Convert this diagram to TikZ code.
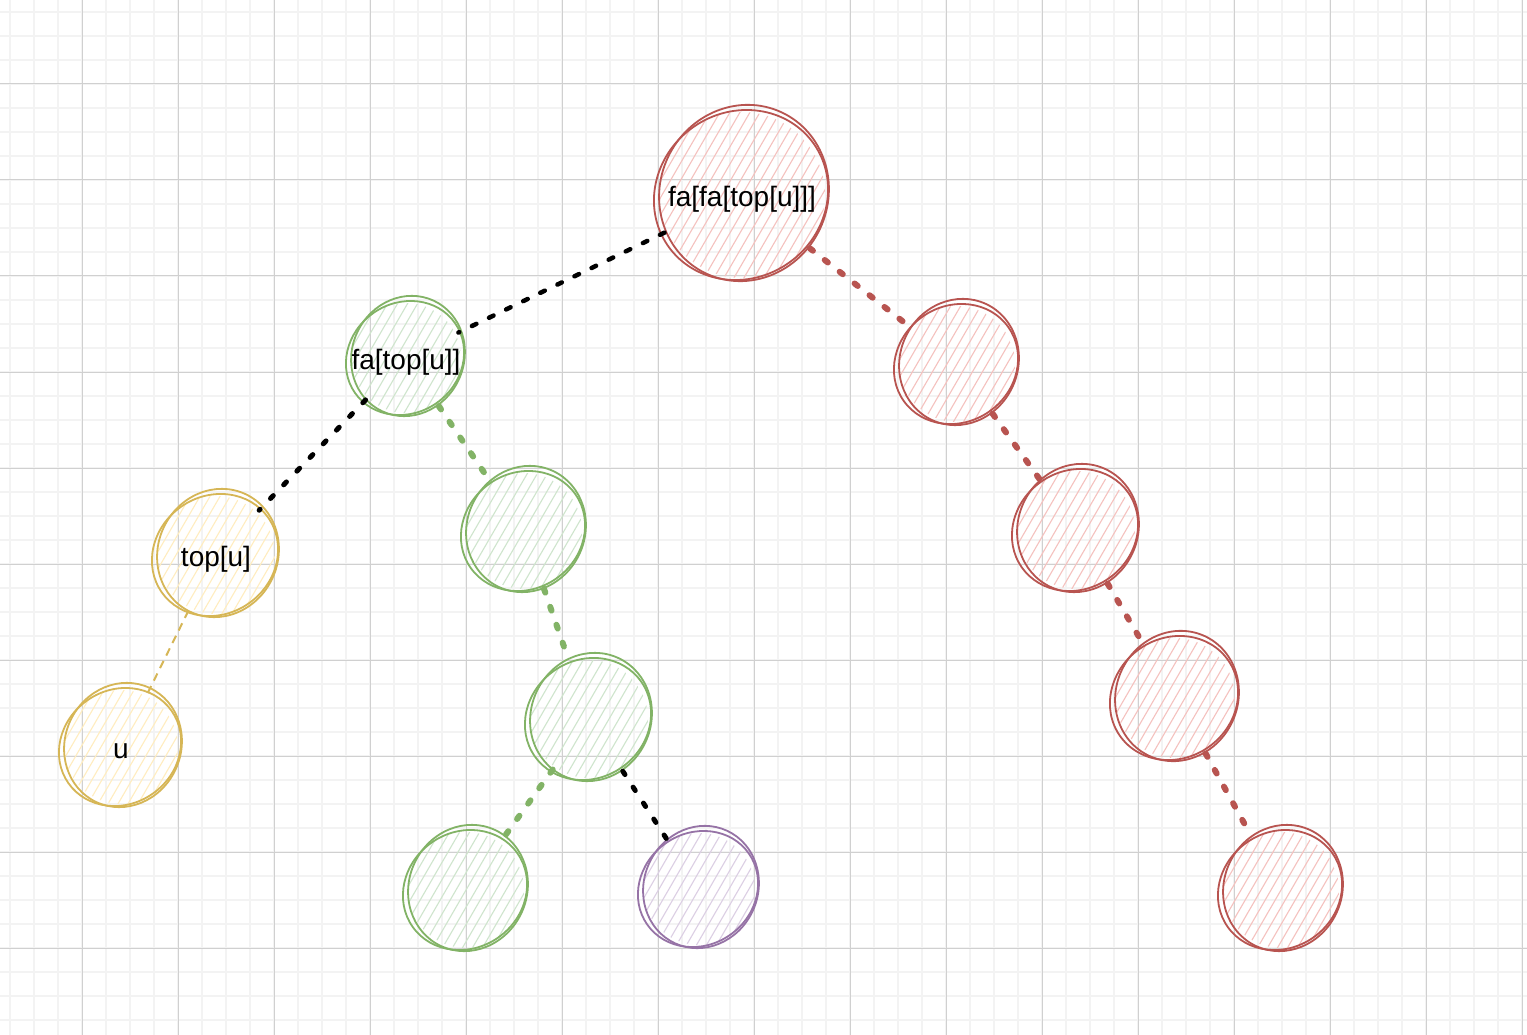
\documentclass[tikz,border=0pt]{standalone}
\usepackage{fontspec}
\setmainfont{Liberation Sans}
\definecolor{redS}{HTML}{B85450}\definecolor{redF}{HTML}{F5C2BF}
\definecolor{greenS}{HTML}{82B366}\definecolor{greenF}{HTML}{CFE5CD}
\definecolor{yellowS}{HTML}{D6B656}\definecolor{yellowF}{HTML}{FFEDC0}
\definecolor{purpleS}{HTML}{9673A6}\definecolor{purpleF}{HTML}{DCCFE4}
\definecolor{gridMajor}{HTML}{D0D0D0}\definecolor{gridMinor}{HTML}{F3F3F3}
\tikzset{
  outl/.style={draw=#1S, line width=1.8pt},
  hatch/.style={draw=#1F, line width=1.1pt},
  nodeshape/.style={circle, inner sep=0pt},
  textlab/.style={font=\fontsize{28}{33}\selectfont, text=black, inner sep=0pt, yshift=-4pt},
  blackdot/.style={draw=black, line width=5pt, dash pattern=on 4pt off 15pt, line cap=round},
  blackthin/.style={blackdot, line width=4.5pt, dash pattern=on 5pt off 14pt},
  colordot/.style={draw=#1S, line width=6pt, dash pattern=on 4pt off 15pt, line cap=round},
  yellowdash/.style={draw=yellowS, line width=2pt, dash pattern=on 8pt off 6pt}
}
\newcommand{\sketchnode}[6]{%
  \begin{scope}[shift={(#2,#3)}]
    \clip (0,0) circle (#4-3);
    \foreach \o in {-170,-160,...,170} \draw[hatch=#5] ({\o-58},100) -- ({\o+58},-100);
  \end{scope}
  \draw[outl=#5] ({#2-1},#3) ellipse [x radius=#4+3, y radius=#4-3, rotate=35];
  \draw[outl=#5] ({#2+2},{#3-2}) ellipse [x radius=#4-2, y radius=#4+3, rotate=-25];
  \node[nodeshape, minimum size={2*#4}, label={[textlab]center:#6}] (#1) at (#2,#3) {};
}
\begin{document}
\begin{tikzpicture}[x=1pt, y=-1pt]
\useasboundingbox (0,0) rectangle (1527,1035);
\fill[white] (0,0) rectangle (1527,1035);
% grid
\foreach \x in {10,34,...,1527} \draw[gridMinor, line width=1.6pt] (\x,0) -- (\x,1035);
\foreach \y in {12,36,...,1035} \draw[gridMinor, line width=1.6pt] (0,\y) -- (1527,\y);
\foreach \x in {82,178,...,1527} \draw[gridMajor, line width=1pt] (\x,0) -- (\x,1035);
\foreach \y in {84,180,...,1035} \draw[gridMajor, line width=1pt] (0,\y) -- (1527,\y);
% nodes
\sketchnode{root}{742}{195}{86}{red}{fa[fa[top[u]]]}
\sketchnode{fa}{406}{358}{58}{green}{fa[top[u]]}
\sketchnode{top}{216}{555}{62}{yellow}{top[u]}
\sketchnode{u}{121}{747}{60}{yellow}{u}
\sketchnode{gB}{524}{531}{61}{green}{}
\sketchnode{gC}{589}{719}{62}{green}{}
\sketchnode{gD}{466}{890}{61}{green}{}
\sketchnode{pA}{699}{889}{59}{purple}{}
\sketchnode{rB}{957}{364}{61}{red}{}
\sketchnode{rC}{1076}{530}{62}{red}{}
\sketchnode{rD}{1175}{698}{63}{red}{}
\sketchnode{rE}{1281}{890}{61}{red}{}
% edges
\draw[blackthin] (root) -- (fa);
\draw[blackdot] (fa) -- (top);
\draw[yellowdash] (top) -- (u);
\draw[colordot=green] (fa) -- (gB);
\draw[colordot=green] (gB) -- (gC);
\draw[colordot=green] (gC) -- (gD);
\draw[blackdot] (gC) -- (pA);
\draw[colordot=red] (root) -- (rB);
\draw[colordot=red] (rB) -- (rC);
\draw[colordot=red] (rC) -- (rD);
\draw[colordot=red] (rD) -- (rE);
\end{tikzpicture}
\end{document}
